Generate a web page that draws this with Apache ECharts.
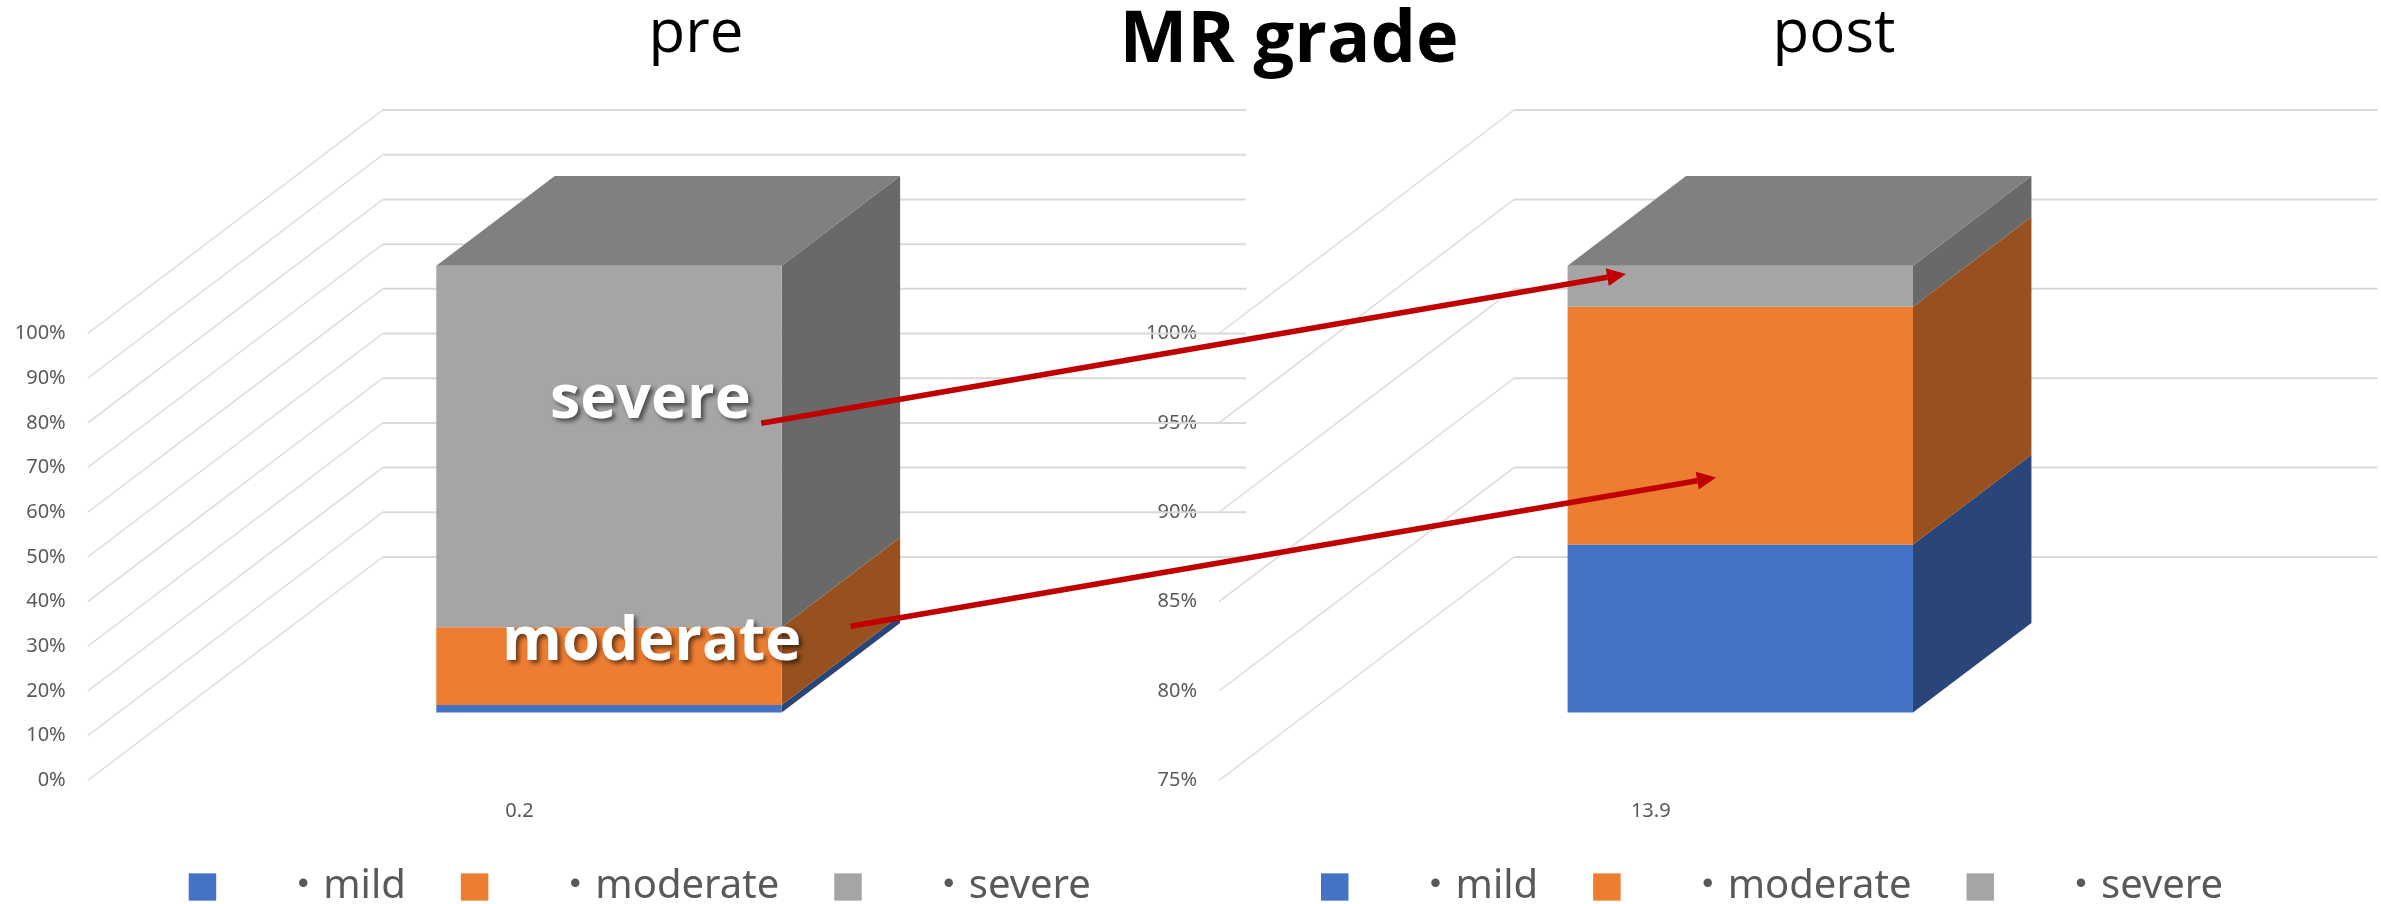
<!DOCTYPE html>
<html>
<head>
<meta charset="utf-8">
<title>MR grade</title>
<script src="https://cdn.jsdelivr.net/npm/echarts@6/dist/echarts.min.js"></script>
<style>
  html, body { margin: 0; padding: 0; background: #fff; }
  #main { width: 2381px; height: 904px; }
</style>
</head>
<body>
<div id="main"></div>
<script>
// values
const names = ['・mild', '・moderate', '・severe']
const preCategory = ['0.2']
const postCategory = ['13.9']
const preMild = [1.7]
const preModerate = [17.4]
const preSevere = [80.9]
const postMild = [9.4]
const postModerate = [13.3]
const postSevere = [2.3]
const preTicks = [0, 10, 20, 30, 40, 50, 60, 70, 80, 90, 100]
const postTicks = [75, 80, 85, 90, 95, 100]

const frontColors = ['#4472C4', '#ED7D31', '#A5A5A5']
const sideColors = ['#2A4678', '#97501E', '#696969']
const topColor = '#808080'

// oblique projection of the 3d box
const depthX = 295
const depthY = -223.4
const barNear = 0.3035
const barFar = 0.705
const barWidth = 0.4

const font = '"Noto Sans", "Noto Sans CJK JP", sans-serif'
const titleFont = '"Open Sans", sans-serif'
const labelColor = '#595959'

function renderWall(params, api) {
  const rect = params.coordSys
  const p = api.coord([0, api.value(1)])
  const backY = p[1] + depthY
  return {
    type: 'group',
    children: [
      {
        type: 'line',
        shape: { x1: rect.x, y1: p[1], x2: rect.x + depthX, y2: backY },
        style: { stroke: '#D9D9D9', lineWidth: 1.3 },
      },
      {
        type: 'line',
        shape: { x1: rect.x + depthX, y1: backY, x2: rect.x + rect.width + depthX, y2: backY },
        style: { stroke: '#D9D9D9', lineWidth: 2 },
      },
    ],
  }
}

function renderBar(colorIndex, isTop) {
  return function (params, api) {
    const low = api.coord([api.value(0), api.value(1)])
    const high = api.coord([api.value(0), api.value(2)])
    const half = (api.size([1, 0])[0] * barWidth) / 2
    const x0 = low[0] - half + depthX * barNear
    const x1 = low[0] + half + depthX * barNear
    const y0 = low[1] + depthY * barNear
    const y1 = high[1] + depthY * barNear
    const dx = depthX * (barFar - barNear)
    const dy = depthY * (barFar - barNear)
    const children = [
      {
        type: 'polygon',
        shape: { points: [[x1, y0], [x1 + dx, y0 + dy], [x1 + dx, y1 + dy], [x1, y1]] },
        style: { fill: sideColors[colorIndex] },
      },
      {
        type: 'rect',
        shape: { x: x0, y: y1, width: x1 - x0, height: y0 - y1 },
        style: { fill: frontColors[colorIndex] },
      },
    ]
    if (isTop) {
      children.push({
        type: 'polygon',
        shape: { points: [[x0, y1], [x0 + dx, y1 + dy], [x1 + dx, y1 + dy], [x1, y1]] },
        style: { fill: topColor },
      })
    }
    return { type: 'group', children: children }
  }
}

function barSeries(axisIndex, values) {
  let base = axisIndex === 0 ? 0 : 75
  return values.map(function (list, i) {
    const row = [0, base, base + list[0]]
    base += list[0]
    return {
      type: 'custom',
      name: names[i],
      xAxisIndex: axisIndex,
      yAxisIndex: axisIndex,
      z: 3,
      clip: false,
      silent: true,
      itemStyle: { color: frontColors[i] },
      encode: { x: 0, y: [1, 2] },
      renderItem: renderBar(i, i === values.length - 1),
      data: [row],
    }
  })
}

function wallSeries(axisIndex, ticks) {
  return {
    type: 'custom',
    name: 'wall',
    xAxisIndex: axisIndex,
    yAxisIndex: axisIndex,
    z: 1,
    clip: false,
    silent: true,
    encode: { x: 0, y: 1 },
    renderItem: renderWall,
    data: ticks.map(function (t) { return [0, t] }),
  }
}

function makeLegend(left) {
  return {
    data: names,
    left: left,
    top: 862,
    icon: 'rect',
    itemWidth: 27.5,
    itemHeight: 27.3,
    itemGap: 55,
    selectedMode: false,
    itemStyle: { borderWidth: 0 },
    textStyle: { color: labelColor, fontSize: 40, fontFamily: font, padding: [0, 0, 0, 62] },
  }
}

function makeX(gridIndex, data) {
  return {
    type: 'category',
    gridIndex: gridIndex,
    data: data,
    axisLine: { show: false },
    axisTick: { show: false },
    axisLabel: { color: labelColor, fontSize: 20, fontFamily: font, margin: 21 },
  }
}

function makeY(gridIndex, min, max, interval) {
  return {
    type: 'value',
    gridIndex: gridIndex,
    min: min,
    max: max,
    interval: interval,
    axisLine: { show: false },
    axisTick: { show: false },
    splitLine: { show: false },
    axisLabel: { color: labelColor, fontSize: 20, fontFamily: font, margin: 22, formatter: '{value}%' },
  }
}

// callout arrow, head is worked out from the direction
function arrow(x1, y1, x2, y2) {
  const len = Math.hypot(x2 - x1, y2 - y1)
  const ux = (x2 - x1) / len
  const uy = (y2 - y1) / len
  const headLen = 19
  const headHalf = 9
  const bx = x2 - ux * headLen
  const by = y2 - uy * headLen
  return [
    {
      type: 'line',
      z: 20,
      shape: { x1: x1, y1: y1, x2: bx, y2: by },
      style: { stroke: '#C00000', lineWidth: 5.5 },
    },
    {
      type: 'polygon',
      z: 20,
      shape: {
        points: [
          [x2, y2],
          [bx - uy * headHalf, by + ux * headHalf],
          [bx + uy * headHalf, by - ux * headHalf],
        ],
      },
      style: { fill: '#C00000' },
    },
  ]
}

function callout(text, left, top) {
  return {
    type: 'text',
    z: 10,
    left: left,
    top: top,
    style: {
      text: text,
      fill: '#fff',
      font: 'bold 61px ' + titleFont,
      textShadowColor: 'rgba(0,0,0,0.55)',
      textShadowBlur: 4,
      textShadowOffsetX: 3,
      textShadowOffsetY: 3,
    },
  }
}

const chart = echarts.init(document.getElementById('main'))
chart.setOption({
  backgroundColor: '#fff',
  animation: false,
  title: [
    { text: 'pre', left: 691, top: 0, textAlign: 'center', textStyle: { color: '#000', fontSize: 60, fontWeight: 'normal', fontFamily: titleFont } },
    { text: 'MR grade', left: 1284, top: 0, textAlign: 'center', textStyle: { color: '#000', fontSize: 72, fontWeight: 'bold', fontFamily: titleFont } },
    { text: 'post', left: 1829, top: 0, textAlign: 'center', textStyle: { color: '#000', fontSize: 60, fontWeight: 'normal', fontFamily: titleFont } },
  ],
  legend: [makeLegend(183.7), makeLegend(1316)],
  grid: [
    { left: 87.7, top: 333.5, width: 863.5, height: 446.9 },
    { left: 1219, top: 333.5, width: 863.5, height: 446.9 },
  ],
  xAxis: [makeX(0, preCategory), makeX(1, postCategory)],
  yAxis: [makeY(0, 0, 100, 10), makeY(1, 75, 100, 5)],
  series: [
    wallSeries(0, preTicks),
    wallSeries(1, postTicks),
    ...barSeries(0, [preMild, preModerate, preSevere]),
    ...barSeries(1, [postMild, postModerate, postSevere]),
  ],
  graphic: [
    callout('severe', 550, 370),
    callout('moderate', 502, 612),
    ...arrow(761.3, 423.2, 1626, 274),
    ...arrow(850.6, 626.3, 1716, 477.5),
  ],
})
</script>
</body>
</html>
